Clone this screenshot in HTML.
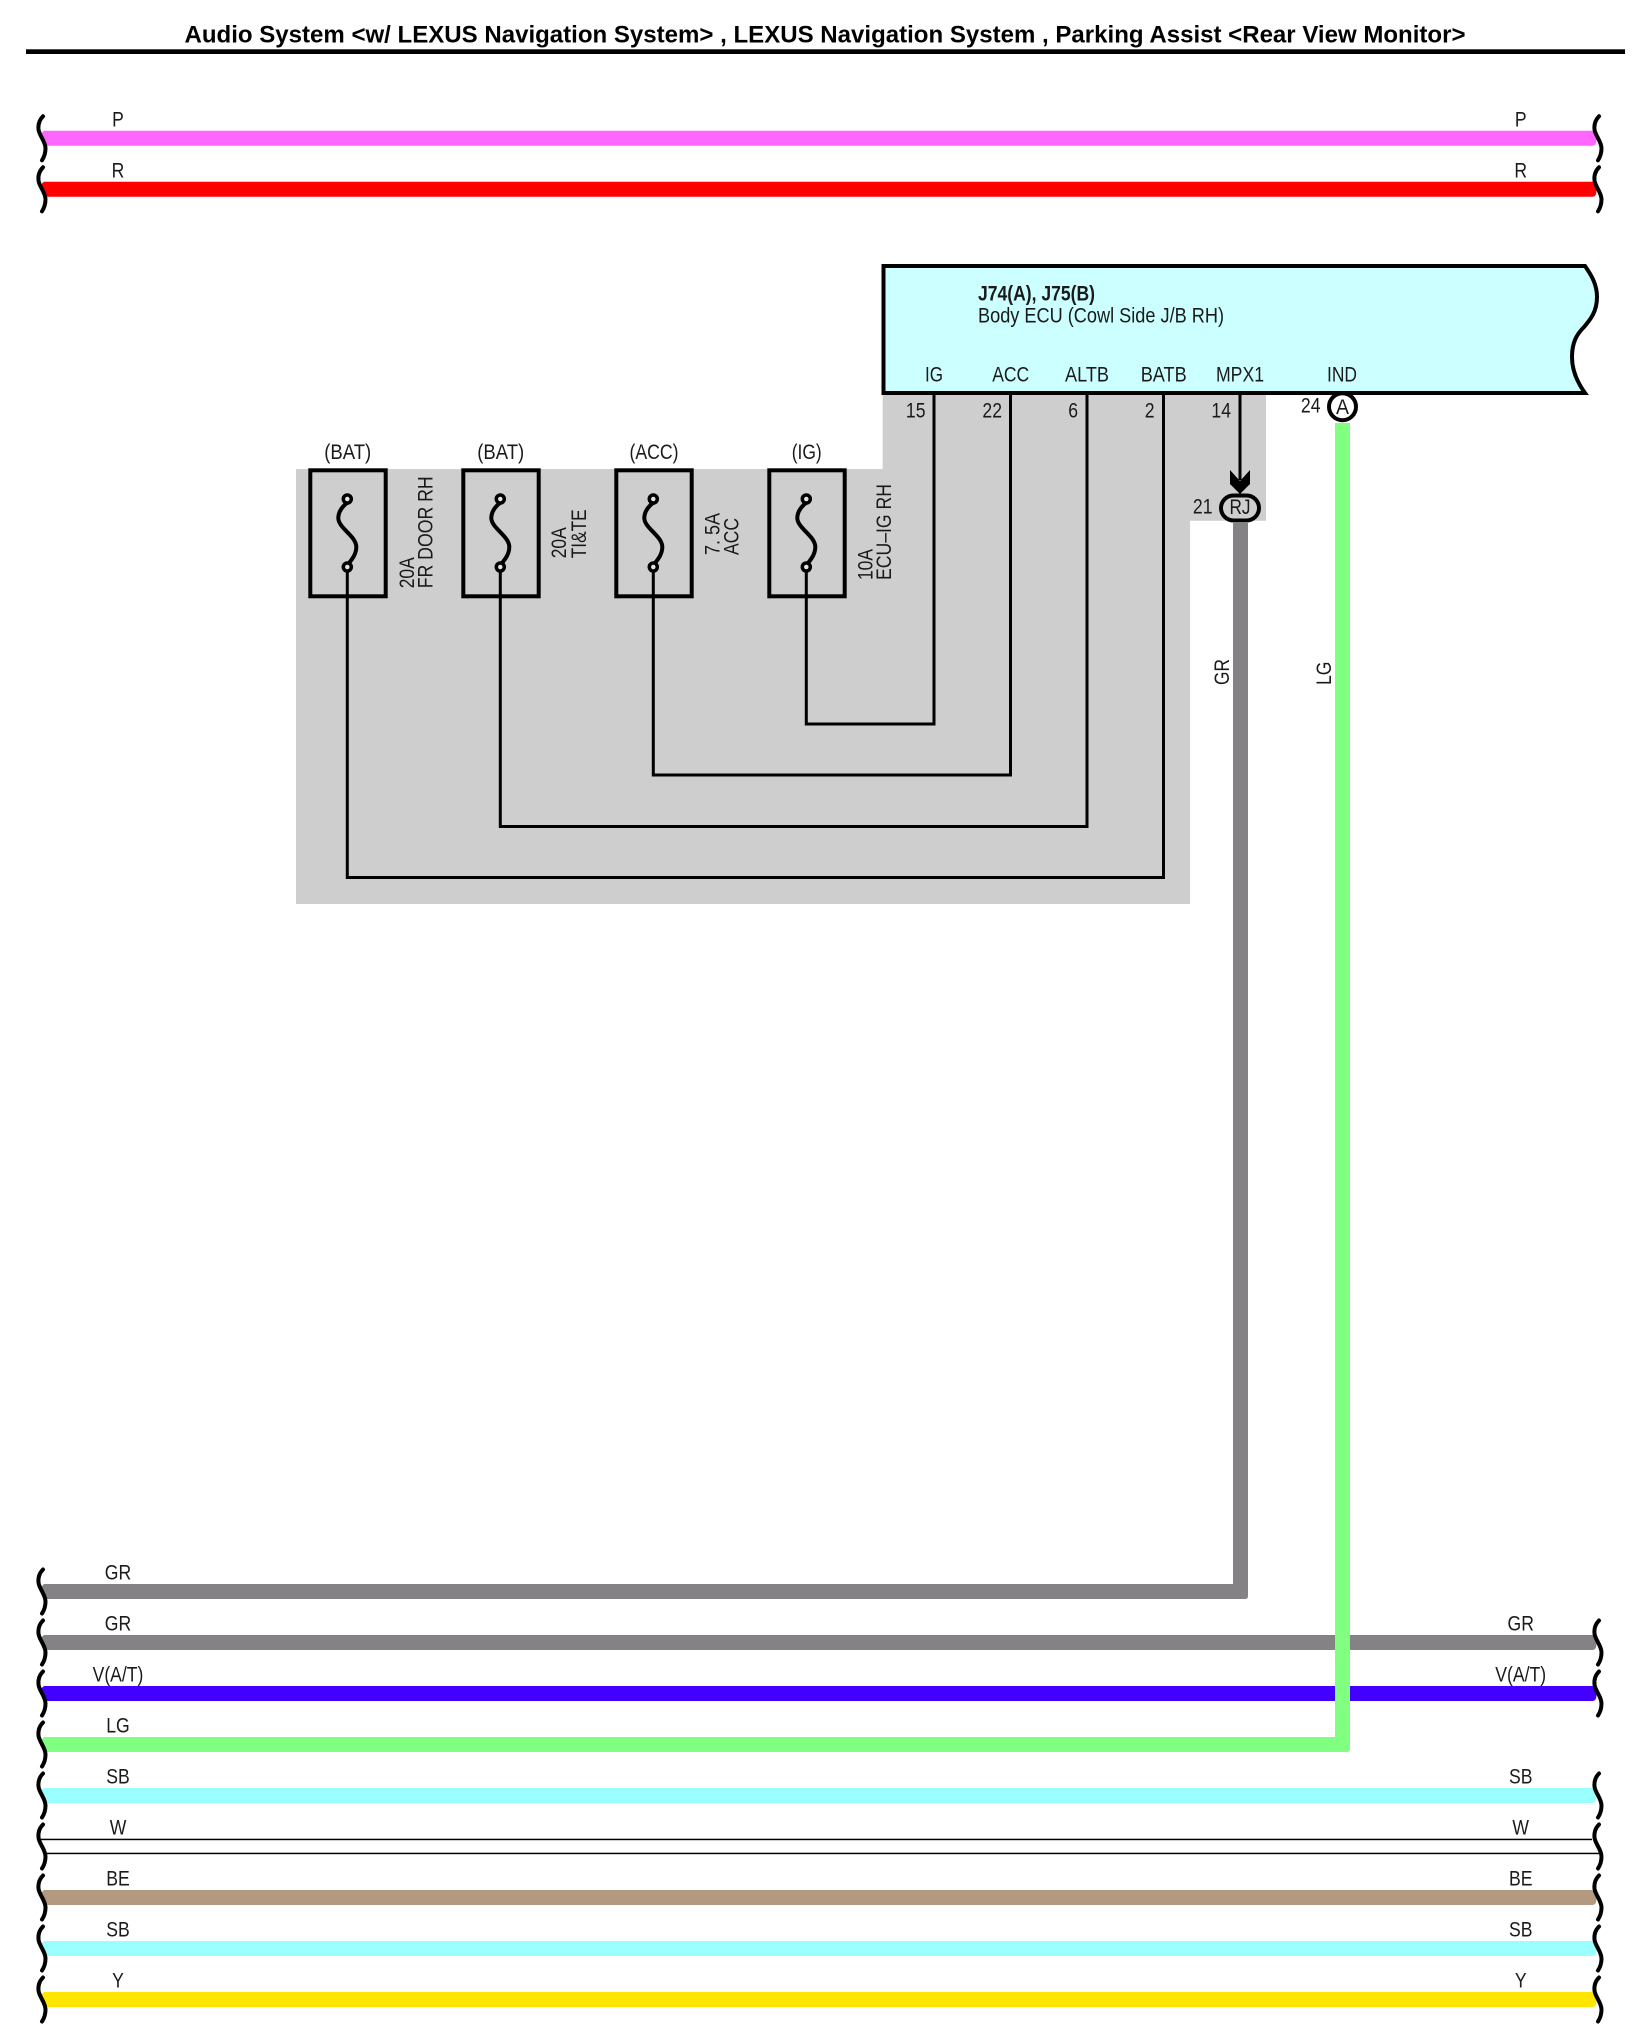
<!DOCTYPE html>
<html><head><meta charset="utf-8"><title>Audio System wiring diagram</title>
<style>
html,body{margin:0;padding:0;background:#fff}
svg{display:block}
text{font-family:"Liberation Sans",sans-serif;font-size:21px;fill:#1a1a1a;text-anchor:middle}
.s{text-anchor:start}
.e{text-anchor:end}
</style></head><body>
<svg width="1638" height="2037" viewBox="0 0 1638 2037" xmlns="http://www.w3.org/2000/svg">
<defs>
<path id="w" d="M43,-22 C39,-18 38,-14 38.5,-9 C39,-3 45.5,3 45.5,10 C45.5,15 44,19 42,22" fill="none" stroke="#000" stroke-width="4" stroke-linecap="round"/>
<path id="b" d="M44,-7.5 L40,-4 L47,7.5 H1592 Q1595,7.5 1596,5 L1597,-1 L1593,-7.5 Z"/>
<g id="fuse">
<rect x="-37" y="-62.7" width="75.4" height="126" fill="none" stroke="#000" stroke-width="4"/>
<path d="M1,-31 C-5,-27 -9,-21 -9,-15 C-9,-5 9,3 9,14 C9,21 5,26 1,31" fill="none" stroke="#000" stroke-width="4"/>
<circle cx="0" cy="-34" r="4" fill="#e4e4e4" stroke="#000" stroke-width="3.5"/>
<circle cx="0" cy="34" r="4" fill="#e4e4e4" stroke="#000" stroke-width="3.5"/>
</g>
</defs>

<text x="825" y="42.7" textLength="1281" lengthAdjust="spacingAndGlyphs" style="font-size:24px;font-weight:bold;fill:#000">Audio System &lt;w/ LEXUS Navigation System&gt; , LEXUS Navigation System , Parking Assist &lt;Rear View Monitor&gt;</text>
<rect x="26" y="49.3" width="1599" height="4.7" fill="#000"/>

<polygon points="882.7,395 1266,395 1266,520.7 1190,520.7 1190,904 296,904 296,469 882.7,469" fill="#cecece"/>

<g fill="none" stroke="#000" stroke-width="3">
<path d="M806.3,567 V724 H934 V393"/>
<path d="M653.3,567 V775 H1010.5 V393"/>
<path d="M500.3,567 V826.5 H1087 V393"/>
<path d="M347.3,567 V877.5 H1163.5 V393"/>
<path d="M1240,393 V480"/>
</g>

<use href="#fuse" x="347.3" y="533"/>
<use href="#fuse" x="500.3" y="533"/>
<use href="#fuse" x="653.3" y="533"/>
<use href="#fuse" x="806.3" y="533"/>

<text x="347.7" y="459" textLength="47" lengthAdjust="spacingAndGlyphs">(BAT)</text>
<text x="500.7" y="459" textLength="47" lengthAdjust="spacingAndGlyphs">(BAT)</text>
<text x="654" y="459" textLength="49" lengthAdjust="spacingAndGlyphs">(ACC)</text>
<text x="806.7" y="459" textLength="30" lengthAdjust="spacingAndGlyphs">(IG)</text>

<g class="rot">
<text class="s" transform="translate(414,588.3) rotate(-90)" textLength="31" lengthAdjust="spacingAndGlyphs">20A</text>
<text class="s" transform="translate(432.7,588.3) rotate(-90)" textLength="112" lengthAdjust="spacingAndGlyphs">FR DOOR RH</text>
<text class="s" transform="translate(566,558.3) rotate(-90)" textLength="31" lengthAdjust="spacingAndGlyphs">20A</text>
<text class="s" transform="translate(586,558.3) rotate(-90)" textLength="49" lengthAdjust="spacingAndGlyphs">TI&amp;TE</text>
<text class="s" transform="translate(719.3,555) rotate(-90)" textLength="42" lengthAdjust="spacingAndGlyphs">7. 5A</text>
<text class="s" transform="translate(738.3,555) rotate(-90)" textLength="37" lengthAdjust="spacingAndGlyphs">ACC</text>
<text class="s" transform="translate(872.3,580) rotate(-90)" textLength="31" lengthAdjust="spacingAndGlyphs">10A</text>
<text class="s" transform="translate(891,580) rotate(-90)" textLength="96" lengthAdjust="spacingAndGlyphs">ECU–IG RH</text>
<text class="s" transform="translate(1229,685) rotate(-90)" textLength="26" lengthAdjust="spacingAndGlyphs">GR</text>
<text class="s" transform="translate(1331,685) rotate(-90)" textLength="23.5" lengthAdjust="spacingAndGlyphs">LG</text>
</g>

<path d="M883.5,266 H1585 C1592,276 1597,285 1597,297 C1597,312 1590,320 1584,327 C1577,334 1572,342 1572,357 C1572,370 1577,382 1585,393 H883.5 Z" fill="#ccffff" stroke="#000" stroke-width="4"/>
<text class="s" x="978" y="300.7" textLength="117" lengthAdjust="spacingAndGlyphs" style="font-weight:bold">J74(A), J75(B)</text>
<text class="s" x="978" y="322.4" textLength="246" lengthAdjust="spacingAndGlyphs">Body ECU (Cowl Side J/B RH)</text>

<text x="934" y="381.6" textLength="18" lengthAdjust="spacingAndGlyphs">IG</text>
<text x="1010.7" y="381.6" textLength="37" lengthAdjust="spacingAndGlyphs">ACC</text>
<text x="1087" y="381.6" textLength="44" lengthAdjust="spacingAndGlyphs">ALTB</text>
<text x="1163.7" y="381.6" textLength="46" lengthAdjust="spacingAndGlyphs">BATB</text>
<text x="1240" y="381.6" textLength="48" lengthAdjust="spacingAndGlyphs">MPX1</text>
<text x="1342" y="381.6" textLength="30" lengthAdjust="spacingAndGlyphs">IND</text>

<text class="e" x="925.5" y="417.6" textLength="19.6" lengthAdjust="spacingAndGlyphs">15</text>
<text class="e" x="1002" y="417.6" textLength="19.6" lengthAdjust="spacingAndGlyphs">22</text>
<text class="e" x="1078" y="417.6" textLength="9.8" lengthAdjust="spacingAndGlyphs">6</text>
<text class="e" x="1154.5" y="417.6" textLength="9.8" lengthAdjust="spacingAndGlyphs">2</text>
<text class="e" x="1231" y="417.6" textLength="19.6" lengthAdjust="spacingAndGlyphs">14</text>
<text class="e" x="1320.5" y="412.6" textLength="19.6" lengthAdjust="spacingAndGlyphs">24</text>
<text class="e" x="1212.5" y="513.6" textLength="19.6" lengthAdjust="spacingAndGlyphs">21</text>

<!-- top wires -->
<g transform="translate(0,138.3)"><use href="#b" fill="#ff66ff"/><use href="#w"/><use href="#w" x="1556"/></g>
<g transform="translate(0,189.3)"><use href="#b" fill="#ff0000"/><use href="#w"/><use href="#w" x="1556"/></g>
<text x="118" y="126.3" textLength="11.7" lengthAdjust="spacingAndGlyphs">P</text>
<text x="1520.7" y="126.3" textLength="11.7" lengthAdjust="spacingAndGlyphs">P</text>
<text x="118" y="177.3" textLength="12.7" lengthAdjust="spacingAndGlyphs">R</text>
<text x="1520.7" y="177.3" textLength="12.7" lengthAdjust="spacingAndGlyphs">R</text>

<!-- bottom wires -->
<path d="M44,1584 H1233 V523 H1248 V1596 Q1248,1599 1245,1599 H47 L40,1588 Z" fill="#848284"/>
<use href="#w" y="1591.5"/>
<g transform="translate(0,1642.5)"><use href="#b" fill="#848284"/><use href="#w"/><use href="#w" x="1556"/></g>
<g transform="translate(0,1693.5)"><use href="#b" fill="#4400ff"/><use href="#w"/><use href="#w" x="1556"/></g>
<path d="M1335,423 H1350 V1749 Q1350,1752 1347,1752 H47 L40,1741 L44,1737 H1335 Z" fill="#80ff80"/>
<use href="#w" y="1744.5"/>
<g transform="translate(0,1795.5)"><use href="#b" fill="#99ffff"/><use href="#w"/><use href="#w" x="1556"/></g>
<g transform="translate(0,1846.5)">
<rect x="40" y="-7.8" width="1552" height="1.5" fill="#000"/>
<rect x="47" y="6.2" width="1555" height="1.5" fill="#000"/>
<use href="#w"/><use href="#w" x="1556"/></g>
<g transform="translate(0,1897.5)"><use href="#b" fill="#b39980"/><use href="#w"/><use href="#w" x="1556"/></g>
<g transform="translate(0,1948.5)"><use href="#b" fill="#99ffff"/><use href="#w"/><use href="#w" x="1556"/></g>
<g transform="translate(0,1999.5)"><use href="#b" fill="#ffe600"/><use href="#w"/><use href="#w" x="1556"/></g>

<text x="118" y="1579.5" textLength="26.4" lengthAdjust="spacingAndGlyphs">GR</text>
<text x="118" y="1630.5" textLength="26.4" lengthAdjust="spacingAndGlyphs">GR</text>
<text x="1520.7" y="1630.5" textLength="26.4" lengthAdjust="spacingAndGlyphs">GR</text>
<text x="118" y="1681.5" textLength="50.8" lengthAdjust="spacingAndGlyphs">V(A/T)</text>
<text x="1520.7" y="1681.5" textLength="50.8" lengthAdjust="spacingAndGlyphs">V(A/T)</text>
<text x="118" y="1732.5" textLength="23.5" lengthAdjust="spacingAndGlyphs">LG</text>
<text x="118" y="1783.5" textLength="23.5" lengthAdjust="spacingAndGlyphs">SB</text>
<text x="1520.7" y="1783.5" textLength="23.5" lengthAdjust="spacingAndGlyphs">SB</text>
<text x="118" y="1834.5" textLength="16.6" lengthAdjust="spacingAndGlyphs">W</text>
<text x="1520.7" y="1834.5" textLength="16.6" lengthAdjust="spacingAndGlyphs">W</text>
<text x="118" y="1885.5" textLength="23.5" lengthAdjust="spacingAndGlyphs">BE</text>
<text x="1520.7" y="1885.5" textLength="23.5" lengthAdjust="spacingAndGlyphs">BE</text>
<text x="118" y="1936.5" textLength="23.5" lengthAdjust="spacingAndGlyphs">SB</text>
<text x="1520.7" y="1936.5" textLength="23.5" lengthAdjust="spacingAndGlyphs">SB</text>
<text x="118" y="1987.5" textLength="11.7" lengthAdjust="spacingAndGlyphs">Y</text>
<text x="1520.7" y="1987.5" textLength="11.7" lengthAdjust="spacingAndGlyphs">Y</text>

<!-- connectors -->
<circle cx="1342.5" cy="406.7" r="13.5" fill="#fff" stroke="#000" stroke-width="4"/>
<text x="1342.5" y="414" textLength="13" lengthAdjust="spacingAndGlyphs">A</text>
<rect x="1221" y="495.5" width="38" height="25" rx="12.5" fill="#cecece" stroke="#000" stroke-width="4"/>
<text x="1240" y="514" textLength="21" lengthAdjust="spacingAndGlyphs">RJ</text>
<polygon points="1230,470 1240,481 1250,470 1250,484 1240,494 1230,484" fill="#000"/>
</svg>
</body></html>
